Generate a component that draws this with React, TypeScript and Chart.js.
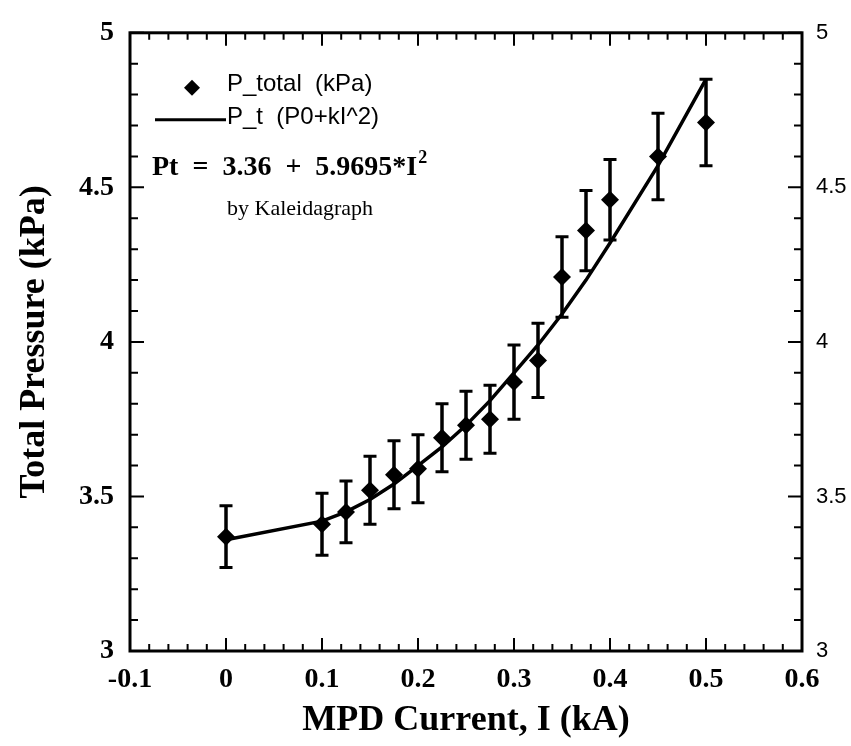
import React, { useEffect, useRef } from "react";
import { Chart, registerables } from "chart.js";

Chart.register(...registerables);

// MPD current (kA)
const currents = [0, 0.1, 0.125, 0.15, 0.175, 0.2, 0.225, 0.25, 0.275, 0.3, 0.325, 0.35, 0.375, 0.4, 0.45, 0.5];
// Measured total pressure (kPa)
const measured = [3.37, 3.41, 3.45, 3.52, 3.57, 3.59, 3.69, 3.73, 3.75, 3.87, 3.94, 4.21, 4.36, 4.46, 4.6, 4.71];
// Error bar half-heights (kPa)
const errors = [0.1, 0.1, 0.1, 0.11, 0.11, 0.11, 0.11, 0.11, 0.11, 0.12, 0.12, 0.13, 0.13, 0.13, 0.14, 0.14];
// Fitted curve P_t (kPa)
const fitted = [3.36, 3.42, 3.45, 3.49, 3.54, 3.6, 3.66, 3.73, 3.81, 3.9, 3.99, 4.09, 4.2, 4.32, 4.57, 4.85];

const xTickValues = [-0.1, 0, 0.1, 0.2, 0.3, 0.4, 0.5, 0.6];
const xTickLabels = ["-0.1", "0", "0.1", "0.2", "0.3", "0.4", "0.5", "0.6"];
const yTickValues = [3, 3.5, 4, 4.5, 5];
const yTickLabels = ["3", "3.5", "4", "4.5", "5"];

const legendMeasured = "P_total  (kPa)";
const legendFit = "P_t  (P0+kI^2)";
const equationText = "Pt  =  3.36  +  5.9695*I";
const equationSup = "2";
const noteText = "by Kaleidagraph";

const SERIF = '"Liberation Serif", "Times New Roman", serif';
const SANS = '"Liberation Sans", Arial, sans-serif';

const framePlugin = {
  id: "frame",
  beforeDatasetsDraw(chart: any) {
    const { ctx } = chart;
    const xs = chart.scales.x;
    const ys = chart.scales.y;
    ctx.save();
    ctx.strokeStyle = "#000";
    ctx.lineCap = "butt";
    currents.forEach((c, i) => {
      const px = xs.getPixelForValue(c);
      const top = ys.getPixelForValue(measured[i] + errors[i]);
      const bot = ys.getPixelForValue(measured[i] - errors[i]);
      ctx.lineWidth = 3.5;
      ctx.beginPath();
      ctx.moveTo(px, top);
      ctx.lineTo(px, bot);
      ctx.stroke();
      ctx.lineWidth = 3;
      ctx.beginPath();
      ctx.moveTo(px - 6.5, top);
      ctx.lineTo(px + 6.5, top);
      ctx.moveTo(px - 6.5, bot);
      ctx.lineTo(px + 6.5, bot);
      ctx.stroke();
    });
    ctx.restore();
  },
  afterDraw(chart: any) {
    const { ctx, chartArea } = chart;
    const { left, right, top, bottom } = chartArea;
    const xs = chart.scales.x;
    const ys = chart.scales.y;
    ctx.save();
    ctx.strokeStyle = "#000";
    // frame
    ctx.lineWidth = 3;
    ctx.strokeRect(left, top, right - left, bottom - top);
    // x ticks (bottom and top), inward
    ctx.lineWidth = 2;
    const xmin = xs.min, xmax = xs.max;
    const nX = Math.round((xmax - xmin) / 0.02);
    for (let k = 0; k <= nX; k++) {
      const v = xmin + k * 0.02;
      const px = xs.getPixelForValue(v);
      const major = k % 5 === 0;
      const len = major ? 13 : 7;
      ctx.beginPath();
      ctx.moveTo(px, bottom);
      ctx.lineTo(px, bottom - len);
      ctx.moveTo(px, top);
      ctx.lineTo(px, top + len);
      ctx.stroke();
    }
    const ymin = ys.min, ymax = ys.max;
    const nY = Math.round((ymax - ymin) / 0.1);
    for (let k = 0; k <= nY; k++) {
      const v = ymin + k * 0.1;
      const py = ys.getPixelForValue(v);
      const major = k % 5 === 0;
      const len = major ? 14 : 8;
      ctx.beginPath();
      ctx.moveTo(left, py);
      ctx.lineTo(left + len, py);
      ctx.moveTo(right, py);
      ctx.lineTo(right - len, py);
      ctx.stroke();
    }
    // legend
    ctx.fillStyle = "#000";
    const lx = left;
    const ly = top;
    // diamond marker
    const dx = lx + 62, dy = ly + 55;
    ctx.beginPath();
    ctx.moveTo(dx, dy - 8);
    ctx.lineTo(dx + 8, dy);
    ctx.lineTo(dx, dy + 8);
    ctx.lineTo(dx - 8, dy);
    ctx.closePath();
    ctx.fill();
    ctx.font = `24px ${SANS}`;
    ctx.textBaseline = "middle";
    ctx.textAlign = "left";
    ctx.fillText(legendMeasured, lx + 97, ly + 52);
    ctx.lineWidth = 3;
    ctx.beginPath();
    ctx.moveTo(lx + 25, ly + 87);
    ctx.lineTo(lx + 96, ly + 87);
    ctx.stroke();
    ctx.fillText(legendFit, lx + 97, ly + 85);
    // equation
    ctx.font = `bold 28px ${SERIF}`;
    ctx.textBaseline = "alphabetic";
    const ex = lx + 22, ey = ly + 142;
    ctx.fillText(equationText, ex, ey);
    const w = ctx.measureText(equationText).width;
    ctx.font = `bold 18px ${SERIF}`;
    ctx.fillText(equationSup, ex + w + 1, ey - 12);
    ctx.font = `22px ${SERIF}`;
    ctx.fillText(noteText, lx + 97, ly + 182);
    ctx.restore();
  },
};

export default function App() {
  const ref = useRef<HTMLCanvasElement>(null);
  useEffect(() => {
    const canvas = ref.current;
    if (!canvas) return;
    const setTicks = (vals: number[]) => (s: any) => {
      s.ticks = vals.map((v) => ({ value: v }));
    };
    const chart = new Chart(canvas, {
      type: "scatter",
      data: {
        datasets: [
          {
            type: "line",
            label: legendFit,
            data: currents.map((x, i) => ({ x, y: fitted[i] })),
            borderColor: "#000",
            borderWidth: 3.5,
            pointRadius: 0,
            fill: false,
            tension: 0,
            order: 2,
          } as any,
          {
            type: "scatter",
            label: legendMeasured,
            data: currents.map((x, i) => ({ x, y: measured[i] })),
            pointStyle: "rectRot",
            pointRadius: 9,
            backgroundColor: "#000",
            borderColor: "#000",
            borderWidth: 0,
            order: 1,
          } as any,
        ],
      },
      options: {
        animation: false,
        responsive: true,
        maintainAspectRatio: false,
        layout: { padding: { top: 28, left: 0, right: 0, bottom: 0 } },
        plugins: { legend: { display: false }, tooltip: { enabled: false } },
        scales: {
          x: {
            type: "linear",
            position: "bottom",
            min: -0.1,
            max: 0.6,
            afterBuildTicks: setTicks(xTickValues),
            afterFit: (s: any) => {
              s.height = 95;
            },
            grid: { display: false, drawTicks: false },
            border: { display: false },
            ticks: {
              color: "#000",
              font: { family: SERIF, size: 28, weight: "bold" },
              padding: 12,
              maxRotation: 0,
              autoSkip: false,
              callback: (_v: any, i: number) => xTickLabels[i],
            },
            title: {
              display: true,
              text: "MPD Current, I (kA)",
              color: "#000",
              font: { family: SERIF, size: 36, weight: "bold" },
              padding: { top: 0, bottom: 4 },
            },
          },
          y: {
            type: "linear",
            position: "left",
            min: 3,
            max: 5,
            afterBuildTicks: setTicks(yTickValues),
            afterFit: (s: any) => {
              s.width = 130;
            },
            grid: { display: false, drawTicks: false },
            border: { display: false },
            ticks: {
              color: "#000",
              font: { family: SERIF, size: 28, weight: "bold" },
              padding: 16,
              autoSkip: false,
              callback: (_v: any, i: number) => yTickLabels[i],
            },
            title: {
              display: true,
              text: "Total Pressure (kPa)",
              color: "#000",
              font: { family: SERIF, size: 36, weight: "bold" },
              padding: { top: 13, bottom: 0 },
            },
          },
          y2: {
            type: "linear",
            position: "right",
            min: 3,
            max: 5,
            afterBuildTicks: setTicks(yTickValues),
            afterFit: (s: any) => {
              s.width = 49;
            },
            grid: { display: false, drawTicks: false },
            border: { display: false },
            ticks: {
              color: "#000",
              font: { family: SANS, size: 22 },
              padding: 14,
              autoSkip: false,
              callback: (_v: any, i: number) => yTickLabels[i],
            },
          },
        },
      } as any,
      plugins: [framePlugin],
    });
    return () => chart.destroy();
  }, []);
  return (
    <div style={{ position: "absolute", left: 0, top: 0, width: 851, height: 746, background: "#fff" }}>
      <canvas ref={ref} />
    </div>
  );
}
